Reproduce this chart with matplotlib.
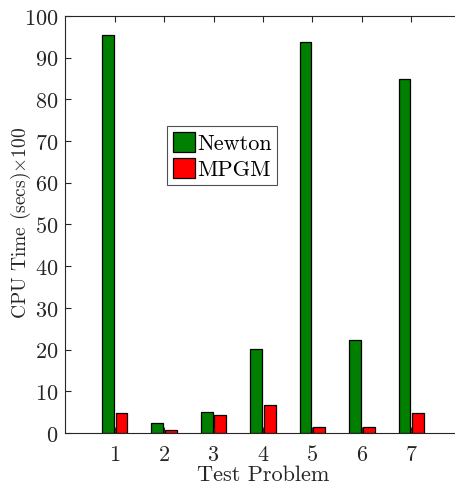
import numpy as np
import matplotlib
matplotlib.use("Agg")
from matplotlib import pyplot as plt

plt.rcParams["font.family"] = "cmr10"
plt.rcParams["mathtext.fontset"] = "cm"
plt.rcParams["axes.formatter.use_mathtext"] = True

problems = [1, 2, 3, 4, 5, 6, 7]
newton = [95.4, 2.5, 5.1, 20.1, 93.8, 22.4, 84.9]
mpgm = [4.8, 0.8, 4.3, 6.7, 1.5, 1.4, 4.9]

GREY = "#262626"

fig = plt.figure(figsize=(4.55, 4.89), dpi=100)
ax = fig.add_axes([0.143, 0.1125, 0.870, 0.853])

x = np.array(problems)
w = 0.24
ax.bar(x - 0.14, newton, w, color="#007f00", edgecolor="black", linewidth=0.9, label="Newton")
ax.bar(x + 0.14, mpgm, w, color="#ff0000", edgecolor="black", linewidth=0.9, label="MPGM")

ax.set_xlim(0, 8)
ax.set_ylim(0, 100)
ax.set_xticks(problems)
ax.set_yticks(range(0, 101, 10))
ax.tick_params(direction="in", top=True, right=False, labelsize=16, colors=GREY, length=4)
ax.tick_params(axis="x", pad=8)
ax.tick_params(axis="y", pad=5)
ax.spines["right"].set_visible(False)
for s in ax.spines.values():
    s.set_color(GREY)
    s.set_linewidth(0.8)

ax.set_xlabel("Test Problem", fontsize=16, color=GREY, labelpad=0)
ax.set_ylabel(r"CPU Time (secs)$\times$100", fontsize=14, color=GREY)
ax.yaxis.set_label_coords(-0.082, 0.505)

leg = ax.legend(loc="upper left", bbox_to_anchor=(0.367, 0.740), bbox_transform=fig.transFigure,
                borderaxespad=0, fontsize=16, fancybox=False, handlelength=1.0, handleheight=1.0,
                handletextpad=0.1, borderpad=0.25, labelspacing=0.2)
leg.get_frame().set_edgecolor(GREY)
leg.get_frame().set_linewidth(0.8)

fig.savefig("out.png", dpi=100)
